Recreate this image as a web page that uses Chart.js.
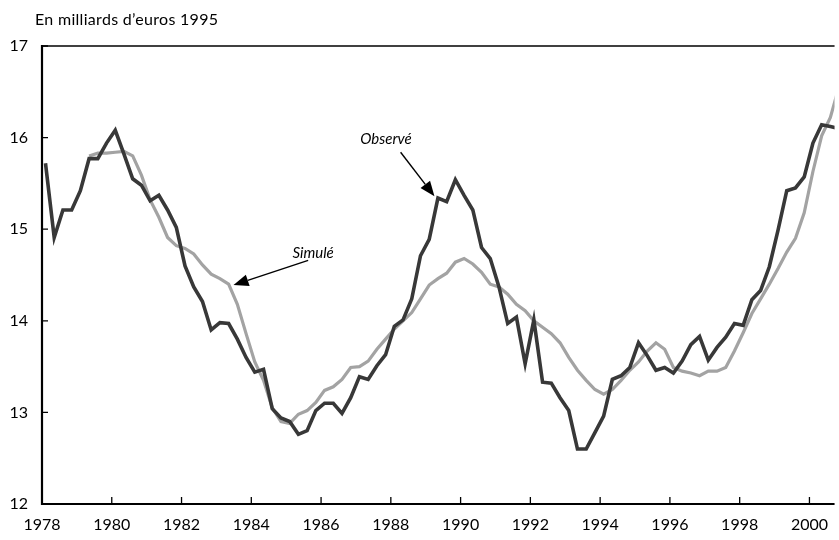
<!DOCTYPE html>
<html>
<head>
<meta charset="utf-8">
<script src="https://cdn.jsdelivr.net/npm/chart.js@4.4.1/dist/chart.umd.min.js"></script>
<style>
  html, body { margin: 0; padding: 0; background: #fff; }
  #wrap { width: 839px; height: 540px; position: relative; }
</style>
</head>
<body>
<div id="wrap"><canvas id="chart"></canvas></div>
<script>
// quarterly series, first quarter of 1978 onwards
const firstQuarter = 1978.1;
const quarterStep = 0.25;

const observe = [
  15.72, 14.91, 15.21, 15.21, 15.42, 15.77, 15.77, 15.94, 16.08, 15.82,
  15.55, 15.48, 15.31, 15.37, 15.21, 15.02, 14.60, 14.37, 14.21, 13.90,
  13.98, 13.97, 13.80, 13.60, 13.44, 13.47, 13.04, 12.94, 12.90, 12.76,
  12.80, 13.02, 13.10, 13.10, 12.99, 13.16, 13.39, 13.36, 13.51, 13.63,
  13.94, 14.01, 14.24, 14.71, 14.89, 15.34, 15.30, 15.54, 15.37, 15.21,
  14.80, 14.68, 14.37, 13.97, 14.04, 13.53, 14.01, 13.33, 13.32, 13.16,
  13.02, 12.60, 12.60, 12.78, 12.96, 13.36, 13.40, 13.49, 13.76, 13.62,
  13.46, 13.49, 13.43, 13.56, 13.74, 13.83, 13.57, 13.71, 13.82, 13.97,
  13.95, 14.23, 14.33, 14.59, 14.99, 15.42, 15.45, 15.57, 15.94, 16.14,
  16.12, 16.10
];

const simule = [
  null, null, null, null, null, 15.80, 15.83, 15.83, 15.84, 15.85,
  15.80, 15.59, 15.32, 15.13, 14.91, 14.82, 14.79, 14.73, 14.61, 14.51,
  14.46, 14.40, 14.18, 13.86, 13.55, 13.35, 13.05, 12.90, 12.88, 12.98,
  13.02, 13.11, 13.24, 13.28, 13.36, 13.49, 13.50, 13.56, 13.69, 13.80,
  13.91, 14.00, 14.09, 14.24, 14.39, 14.46, 14.52, 14.64, 14.68, 14.62,
  14.53, 14.40, 14.37, 14.29, 14.18, 14.11, 14.00, 13.93, 13.86, 13.76,
  13.60, 13.46, 13.35, 13.25, 13.20, 13.25, 13.35, 13.46, 13.55, 13.67,
  13.76, 13.69, 13.49, 13.45, 13.43, 13.40, 13.45, 13.45, 13.49, 13.67,
  13.87, 14.08, 14.24, 14.40, 14.57, 14.75, 14.90, 15.18, 15.63, 16.02,
  16.22, 16.56
];

const xTickValues = [1978, 1980, 1982, 1984, 1986, 1988, 1990, 1992, 1994, 1996, 1998, 2000];
const yTickValues = [12, 13, 14, 15, 16, 17];
const unitLabel = 'En milliards d\u2019euros 1995';

// arrow labels, in data units (year, value)
const notes = [
  { text: 'Observé', textX: 1988.6, textY: 15.98, align: 'right', fromX: 1988.28, fromY: 15.84, toX: 1989.25, toY: 15.36 },
  { text: 'Simulé', textX: 1985.77, textY: 14.74, align: 'center', fromX: 1985.63, fromY: 14.66, toX: 1983.49, toY: 14.39 }
];

const FONT = 'Lato, "DejaVu Sans", sans-serif';

const toPoints = values => values.map((v, i) => ({ x: firstQuarter + i * quarterStep, y: v }));

const framePlugin = {
  id: 'frame',
  afterDraw(chart) {
    const ctx = chart.ctx;
    const area = chart.chartArea;
    const xs = chart.scales.x;
    const ys = chart.scales.y;
    ctx.save();
    ctx.strokeStyle = '#000';

    // top line
    ctx.lineWidth = 1.5;
    ctx.beginPath();
    ctx.moveTo(area.left, area.top);
    ctx.lineTo(area.right, area.top);
    ctx.stroke();

    // left and bottom axes
    ctx.lineWidth = 2.2;
    ctx.beginPath();
    ctx.moveTo(area.left, area.top - 1);
    ctx.lineTo(area.left, area.bottom);
    ctx.lineTo(area.right, area.bottom);
    ctx.stroke();

    // tick marks pointing inside
    ctx.lineWidth = 1.3;
    ctx.beginPath();
    yTickValues.forEach(v => {
      const py = ys.getPixelForValue(v);
      ctx.moveTo(area.left, py);
      ctx.lineTo(area.left + 6, py);
    });
    xTickValues.forEach(v => {
      const px = xs.getPixelForValue(v);
      ctx.moveTo(px, area.bottom);
      ctx.lineTo(px, area.bottom - 7);
    });
    ctx.stroke();

    // unit label
    ctx.fillStyle = '#000';
    ctx.font = '16px ' + FONT;
    ctx.letterSpacing = '0.3px';
    ctx.textAlign = 'left';
    ctx.textBaseline = 'middle';
    ctx.fillText(unitLabel, 35, 20);
    ctx.letterSpacing = '0px';

    // arrows and their labels
    notes.forEach(n => {
      const x0 = xs.getPixelForValue(n.fromX), y0 = ys.getPixelForValue(n.fromY);
      const x1 = xs.getPixelForValue(n.toX), y1 = ys.getPixelForValue(n.toY);
      const ang = Math.atan2(y1 - y0, x1 - x0);
      const headLen = 15, headHalf = 6;
      const bx = x1 - headLen * Math.cos(ang), by = y1 - headLen * Math.sin(ang);
      ctx.lineWidth = 1.4;
      ctx.beginPath();
      ctx.moveTo(x0, y0);
      ctx.lineTo(bx, by);
      ctx.stroke();
      ctx.beginPath();
      ctx.moveTo(x1, y1);
      ctx.lineTo(bx + headHalf * Math.sin(ang), by - headHalf * Math.cos(ang));
      ctx.lineTo(bx - headHalf * Math.sin(ang), by + headHalf * Math.cos(ang));
      ctx.closePath();
      ctx.fill();

      ctx.font = 'italic 15px ' + FONT;
      ctx.textAlign = n.align;
      ctx.textBaseline = 'middle';
      ctx.fillText(n.text, xs.getPixelForValue(n.textX), ys.getPixelForValue(n.textY));
    });
    ctx.restore();
  }
};

new Chart(document.getElementById('chart'), {
  type: 'line',
  data: {
    datasets: [
      {
        label: 'Observé',
        data: toPoints(observe),
        borderColor: '#383838',
        borderWidth: 3.6,
        pointRadius: 0,
        tension: 0,
        order: 0
      },
      {
        label: 'Simulé',
        data: toPoints(simule),
        borderColor: '#a3a3a3',
        borderWidth: 3.2,
        pointRadius: 0,
        tension: 0,
        spanGaps: false,
        order: 1
      }
    ]
  },
  options: {
    responsive: true,
    maintainAspectRatio: false,
    animation: false,
    layout: { padding: { top: 46, right: 0, left: 0, bottom: 0 } },
    plugins: {
      legend: { display: false },
      tooltip: { enabled: false }
    },
    scales: {
      x: {
        type: 'linear',
        min: 1978,
        max: 2000.72,
        grid: { display: false, drawTicks: false },
        border: { display: false },
        afterBuildTicks: scale => { scale.ticks = xTickValues.map(v => ({ value: v })); },
        afterFit: scale => { scale.height = 36; },
        ticks: {
          autoSkip: false,
          maxRotation: 0,
          padding: 11,
          color: '#000',
          font: { family: FONT, size: 16 },
          callback: v => String(v)
        }
      },
      y: {
        min: 12,
        max: 17,
        grid: { display: false, drawTicks: false },
        border: { display: false },
        afterBuildTicks: scale => { scale.ticks = yTickValues.map(v => ({ value: v })); },
        afterFit: scale => { scale.width = 42; },
        ticks: {
          padding: 14,
          color: '#000',
          font: { family: FONT, size: 16 },
          callback: v => String(v)
        }
      }
    }
  },
  plugins: [framePlugin]
});
</script>
</body>
</html>
